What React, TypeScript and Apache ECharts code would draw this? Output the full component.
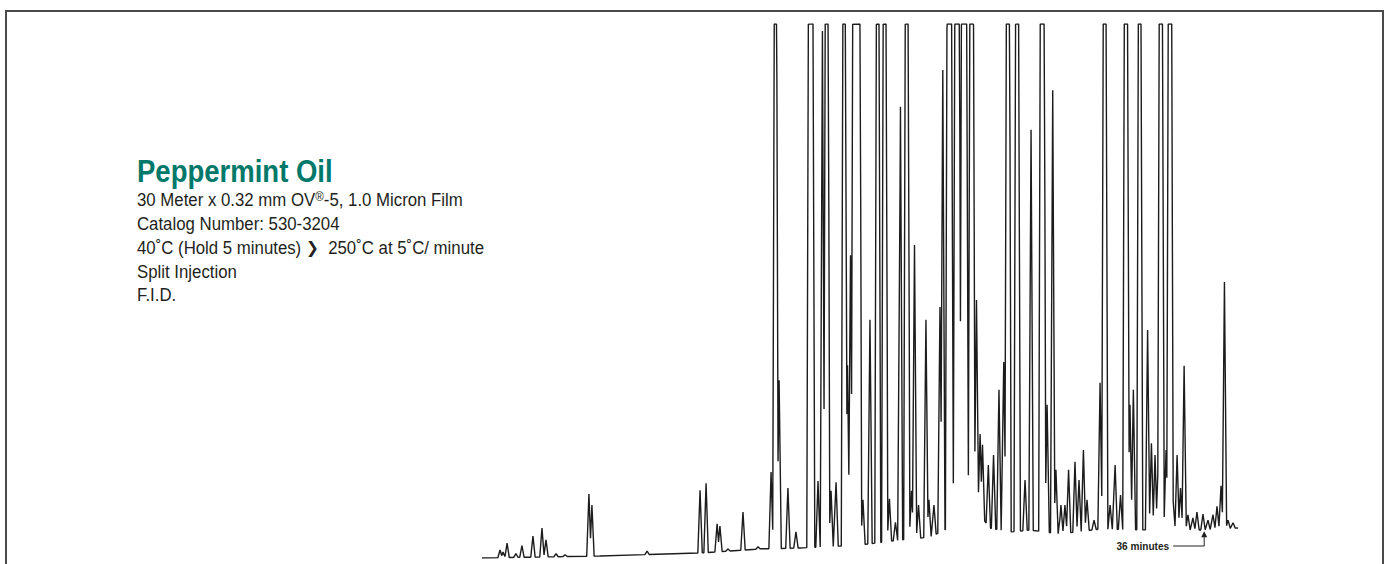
import React, { useEffect, useRef } from "react";
import * as echarts from "echarts";

// ---------- text content ----------
const TITLE = "Peppermint Oil";
const INFO_LINES = [
  "30 Meter x 0.32 mm OV{sup|®}-5, 1.0 Micron Film",
  "Catalog Number: 530-3204",
  "40˚C (Hold 5 minutes) {arr|❯}  250˚C at 5˚C/ minute",
  "Split Injection",
  "F.I.D.",
];
const ANNOTATION_TIME = 36; // minutes
const ANNOTATION_LABEL = "36 minutes";

// ---------- axis ranges ----------
const X_MAX = 38; // minutes
const FULL_SCALE = 100; // recorder full scale
const RUN_END = 37.69; // minutes

// ---------- baseline drift [minutes, response] ----------
const BASELINE: [number, number][] = [
  [0, 0], [5.88, 0.37], [10.87, 0.94], [13.86, 1.69], [15.85, 1.87],
  [18.84, 2.43], [20.84, 3.37], [22.33, 3.93], [23.08, 5.24], [23.58, 8.6],
  [24.33, 9.74], [24.83, 8.05], [25.32, 5.6], [26.32, 4.87], [27.32, 5.24],
  [28.81, 4.49], [30.81, 5.43], [33.3, 5.24], [35.79, 5.24], [37.69, 5.62],
];

// ---------- on-scale peaks [retention time (min), apex response] ----------
const PEAKS: [number, number][] = [
  [0.9, 1.5], [1.05, 1.1], [1.25, 2.8], [1.69, 0.8], [1.99, 2.3], [2.54, 4.1],
  [2.99, 5.6], [3.19, 3.4], [3.69, 0.8], [4.14, 0.6], [5.33, 12.0], [5.48, 9.9],
  [8.23, 1.3], [10.87, 12.7], [11.17, 14.0], [11.72, 6.4], [11.86, 6.0], [12.26, 1.7],
  [13.01, 8.6], [13.76, 2.1], [14.41, 16.1], [14.81, 33.3], [15.25, 13.1],
  [15.65, 4.9], [16.75, 14.4], [16.97, 98.7],
  [17.4, 12.6], [17.65, 14.2], [18.22, 36.1], [18.37, 56.7],
  [18.99, 10.9], [19.34, 44.6], [20.31, 11.1],
  [20.61, 6.7], [20.86, 84.5], [21.41, 12.6], [21.56, 58.6], [21.76, 9.9],
  [22.13, 44.6], [22.28, 10.9], [22.53, 9.9], [22.83, 47.0], [22.97, 91.4],
  [24.65, 48.3], [24.83, 23.2], [24.95, 21.2], [25.24, 17.4], [25.5, 19.3],
  [25.77, 31.5], [26.01, 36.7],
  [27.07, 14.6], [27.37, 80.2], [28.17, 28.7], [28.45, 87.6],
  [28.61, 16.5], [28.86, 9.9], [29.06, 9.9], [29.24, 16.5], [29.56, 18.0], [29.76, 14.6],
  [29.98, 20.2], [30.16, 10.9], [30.51, 7.1], [30.81, 32.8],
  [31.31, 9.9], [31.56, 17.4], [31.83, 11.8], [32.3, 28.7],
  [32.47, 31.5], [33.18, 42.7], [33.37, 21.5], [33.55, 19.3],
  [33.7, 16.9], [34.1, 20.2],
  [34.45, 10.9], [34.65, 19.3], [34.82, 13.1], [35.0, 36.0], [35.19, 8.1], [35.44, 7.5],
  [35.64, 8.6], [35.94, 8.2], [36.19, 7.1], [36.44, 8.1], [36.64, 9.7], [36.84, 13.5],
  [37.01, 51.7], [37.19, 7.1], [37.44, 6.6],
];

// ---------- off-scale peaks: time span held at full scale [start, end] (min) ----------
const SATURATED: [number, number][] = [
  [14.58, 14.68], [16.28, 16.5], [17.12, 17.25], [18.0, 18.12], [18.49, 18.84],
  [19.67, 19.79], [20.01, 20.14], [21.11, 21.24], [23.19, 23.41], [23.58, 23.79],
  [23.91, 24.16], [24.33, 24.49], [26.15, 26.29], [26.61, 26.75], [27.84, 28.02],
  [30.98, 31.11], [32.03, 32.18], [32.73, 32.85], [33.77, 33.92], [34.22, 34.37],
];

// ---------- trace construction (peak envelope over the drifting baseline) ----------
const SIDE_PEAK = 0.11; // minutes from apex to foot, on-scale peaks
const SIDE_SAT = 0.09; // minutes from full-scale edge to foot, saturated peaks
const OVER = 115; // level the saturated sides aim at before the full-scale clamp

function baseAt(t: number): number {
  if (t <= BASELINE[0][0]) return BASELINE[0][1];
  for (let i = 1; i < BASELINE.length; i++) {
    const [t1, v1] = BASELINE[i];
    const [t0, v0] = BASELINE[i - 1];
    if (t <= t1) return v0 + ((v1 - v0) * (t - t0)) / (t1 - t0);
  }
  return BASELINE[BASELINE.length - 1][1];
}

type Shape = { a: number; b: number; h: number; w: number };
const SHAPES: Shape[] = [
  ...PEAKS.map(([t, v]) => ({ a: t, b: t, h: Math.max(0, v - baseAt(t)), w: SIDE_PEAK })),
  ...SATURATED.map(([s, e]) => ({ a: s, b: e, h: OVER - baseAt((s + e) / 2), w: SIDE_SAT })),
].sort((p, q) => p.a - q.a);

function shapeAt(s: Shape, x: number): number {
  if (x >= s.a && x <= s.b) return s.h;
  const d = x < s.a ? s.a - x : x - s.b;
  return d < s.w ? s.h * (1 - d / s.w) : 0;
}

function envelope(x: number): number {
  let m = 0;
  for (const s of SHAPES) m = Math.max(m, shapeAt(s, x));
  return Math.min(FULL_SCALE, baseAt(x) + m);
}

function buildTrace(): [number, number][] {
  const xs: number[] = [0, RUN_END];
  BASELINE.forEach(([t]) => xs.push(t));
  const lines = (s: Shape) => [
    { m: s.h / s.w, c: s.h - (s.h / s.w) * s.a, lo: s.a - s.w, hi: s.a },
    { m: -s.h / s.w, c: s.h + (s.h / s.w) * s.b, lo: s.b, hi: s.b + s.w },
    { m: 0, c: s.h, lo: s.a, hi: s.b },
  ];
  SHAPES.forEach((s, i) => {
    xs.push(s.a - s.w, s.a, s.b, s.b + s.w);
    const base = baseAt((s.a + s.b) / 2);
    if (s.h + base > FULL_SCALE) {
      const f = (FULL_SCALE - base) / s.h;
      xs.push(s.a - s.w * (1 - f), s.b + s.w * (1 - f));
    }
    for (let j = 0; j < SHAPES.length; j++) {
      if (j === i) continue;
      const q = SHAPES[j];
      if (q.a - s.b >= s.w + q.w || s.a - q.b >= s.w + q.w) continue;
      for (const l1 of lines(s)) {
        for (const l2 of lines(q)) {
          if (l1.m === l2.m) continue;
          const x = (l2.c - l1.c) / (l1.m - l2.m);
          if (x >= l1.lo && x <= l1.hi && x >= l2.lo && x <= l2.hi) xs.push(x);
        }
      }
    }
  });
  const sorted = xs.filter((x) => x >= 0 && x <= RUN_END).sort((a, b) => a - b);
  const out: [number, number][] = [];
  let last = -1;
  for (const x of sorted) {
    if (x - last < 1e-4) continue;
    last = x;
    out.push([+x.toFixed(4), +envelope(x).toFixed(3)]);
  }
  return out;
}

const FONT = "'Liberation Sans', Arial, Helvetica, sans-serif";
const TEXT_COLOR = "#231f20";

export default function App() {
  const ref = useRef<HTMLDivElement>(null);
  useEffect(() => {
    if (!ref.current) return;
    const chart = echarts.init(ref.current, null, { renderer: "svg" });
    const trace = buildTrace();
    chart.setOption({
      animation: false,
      backgroundColor: "#ffffff",
      grid: { left: 482, right: 144.7, top: 24, bottom: 6 },
      xAxis: { type: "value", min: 0, max: X_MAX, show: false },
      yAxis: { type: "value", min: 0, max: FULL_SCALE, show: false },
      series: [
        {
          type: "line",
          data: trace,
          showSymbol: false,
          symbol: "none",
          clip: true,
          lineStyle: { color: "#1c1c1c", width: 1.4 },
          silent: true,
        },
      ],
    });

    const [ax] = chart.convertToPixel({ gridIndex: 0 }, [ANNOTATION_TIME, 0]) as number[];
    const [, ay] = chart.convertToPixel({ gridIndex: 0 }, [ANNOTATION_TIME, baseAt(ANNOTATION_TIME)]) as number[];
    const tipY = ay + 1.5;
    const labelY = 546;

    const infoBaselines = [206, 230, 254, 278, 301.5];
    const infoFs = 17.5;
    const titleFs = 32;

    chart.setOption({
      graphic: [
        {
          type: "rect",
          shape: { x: 6, y: 11, width: 1377, height: 600 },
          style: { fill: "none", stroke: "#4a4a4a", lineWidth: 2 },
          silent: true,
        },
        {
          type: "text",
          x: 137,
          y: 181.7 - 0.35 * titleFs,
          scaleX: 0.86,
          style: {
            text: TITLE,
            font: `bold ${titleFs}px ${FONT}`,
            fill: "#00786a",
            verticalAlign: "middle",
            align: "left",
          },
        },
        ...INFO_LINES.map((line, i) => ({
          type: "text",
          x: 137,
          y: infoBaselines[i] - 0.35 * infoFs,
          scaleX: 0.96,
          style: {
            text: line,
            font: `${infoFs}px ${FONT}`,
            fill: TEXT_COLOR,
            verticalAlign: "middle",
            align: "left",
            rich: {
              arr: { fontFamily: "'DejaVu Sans', sans-serif", fontWeight: "bold", fontSize: 16, fill: TEXT_COLOR },
              sup: { fontFamily: "'Liberation Sans', sans-serif", fontSize: 12, fill: TEXT_COLOR, verticalAlign: "top" },
            },
          },
        })),
        {
          type: "text",
          x: ax - 35,
          y: labelY,
          scaleX: 0.92,
          style: {
            text: ANNOTATION_LABEL,
            font: `bold 11px ${FONT}`,
            fill: TEXT_COLOR,
            verticalAlign: "middle",
            align: "right",
          },
        },
        {
          type: "polyline",
          shape: { points: [[ax - 31, labelY], [ax, labelY], [ax, tipY + 5]] },
          style: { stroke: TEXT_COLOR, lineWidth: 1, fill: "none" },
        },
        {
          type: "polygon",
          shape: { points: [[ax, tipY], [ax - 3, tipY + 6], [ax + 3, tipY + 6]] },
          style: { fill: TEXT_COLOR },
        },
      ],
    });
    return () => chart.dispose();
  }, []);
  return (
    <div
      ref={ref}
      style={{ position: "fixed", left: 0, top: 0, width: 1389, height: 564, background: "#fff" }}
    />
  );
}
